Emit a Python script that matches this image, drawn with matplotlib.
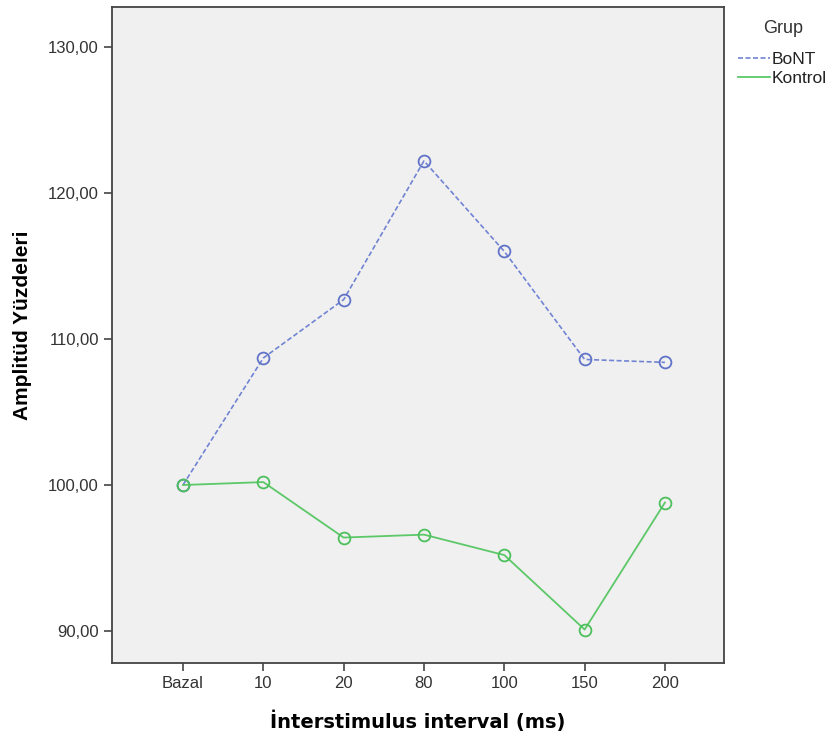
import matplotlib.pyplot as plt

categories = ['Bazal', '10', '20', '80', '100', '150', '200']
bont = [100.0, 108.7, 112.7, 122.2, 116.0, 108.6, 108.4]
kontrol = [100.0, 100.2, 96.4, 96.6, 95.2, 90.1, 98.8]
yticks = [90, 100, 110, 120, 130]
ytick_labels = ['90,00', '100,00', '110,00', '120,00', '130,00']

fig = plt.figure(figsize=(8.3, 7.4), dpi=100)
ax = fig.add_axes([0.1349, 0.1041, 0.7374, 0.8864])
ax.set_facecolor('#f0f0f0')

x = list(range(len(categories)))
ax.plot(x, bont, color='#7183d3', linestyle=(0, (3, 1.5)), linewidth=1.2,
        marker='o', markersize=8.5, markerfacecolor='none',
        markeredgecolor='#6173c8', markeredgewidth=1.3, label='BoNT')
ax.plot(x, kontrol, color='#5cc868', linestyle='-', linewidth=1.3,
        marker='o', markersize=8.5, markerfacecolor='none',
        markeredgecolor='#4cc05c', markeredgewidth=1.3, label='Kontrol')

ax.set_xlim(-0.884, 6.735)
ax.set_ylim(87.81, 132.74)
ax.set_xticks(x)
ax.set_xticklabels(categories, fontsize=12, family='Liberation Sans', color='#333333')
ax.set_yticks(yticks)
ax.set_yticklabels(ytick_labels, fontsize=12, family='Liberation Sans', color='#333333')
ax.tick_params(length=6, width=1.2, color='#444444')
for s in ax.spines.values():
    s.set_color('#444444')
    s.set_linewidth(1.3)

ax.set_xlabel('İnterstimulus interval (ms)', fontsize=14, fontweight='bold', labelpad=14)
ax.set_ylabel('Amplitüd Yüzdeleri', fontsize=15, fontweight='bold',
              family='Liberation Sans')
ax.yaxis.set_label_coords(-0.13, 0.515)

# legend outside on the right, title placed on its own
fig.text(763 / 830, 1 - 20 / 740, 'Grup', fontsize=13, family='Liberation Sans',
         color='#333333', ha='left', va='top')
leg = fig.legend(handles=ax.get_lines(), labels=['BoNT', 'Kontrol'],
                 loc='upper left', bbox_to_anchor=(738 / 830, 1 - 52 / 740),
                 frameon=False, prop={'family': 'Liberation Sans', 'size': 12.5},
                 handlelength=1.85, handletextpad=0.08, labelspacing=0.22,
                 borderaxespad=0, borderpad=0)
for t in leg.get_texts():
    t.set_color('#222222')
for h in leg.legend_handles:
    h.set_marker('')

fig.savefig('out.png', dpi=100, facecolor='white')
